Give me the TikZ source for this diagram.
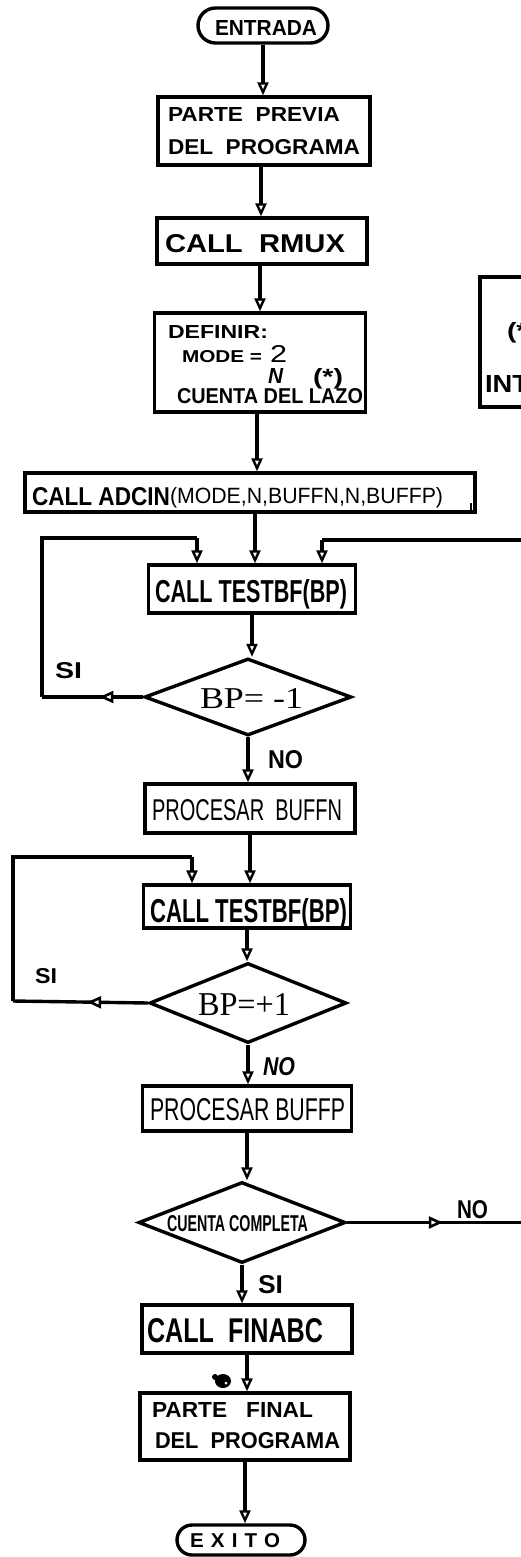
\documentclass[tikz,border=0pt]{standalone}
\usepackage{fontspec}
\usepackage{graphicx}
\setmainfont{Liberation Sans}
\newfontfamily\serifhand{Liberation Serif}
\usetikzlibrary{arrows.meta,shapes.geometric,decorations.markings}
\newcommand{\fitt}[3]{\resizebox{#1}{#2}{#3}}
\begin{document}
\begin{tikzpicture}[x=1pt,y=-1pt,
  ln/.style={line width=3.4pt, line join=miter},
  box/.style={draw, ln, rectangle, inner sep=0pt},
  term/.style={draw, ln, rectangle, rounded corners=#1, inner sep=0pt},
  dia/.style={draw, ln, diamond, inner sep=0pt},
  txt/.style={anchor=base west, inner sep=0pt, outer sep=0pt, font=\bfseries},
  tipp/.style={-{Triangle[fill=white,length=13pt,width=11pt,line width=2.4pt]}},
  flow/.style={ln, tipp},
  midarrow/.style={ln, postaction={decorate}, decoration={markings, mark=at position #1 with {\arrow{Triangle[fill=white,length=14pt,width=12pt,line width=2.6pt]}}}}
]
\fill[white] (0,0) rectangle (521,1557);
\useasboundingbox (0,0) rectangle (521,1557);
\clip (0,0) rectangle (521,1557);

% ---- nodes (boxes) ----
\node[term=17.5pt, minimum width=130pt, minimum height=35pt] (ent) at (263,25.5) {};
\node[box, minimum width=212pt, minimum height=68pt] (pp) at (264,131) {};
\node[box, minimum width=210pt, minimum height=46pt] (rmux) at (262,241) {};
\node[box, minimum width=211pt, minimum height=99pt] (def) at (260,362.5) {};
\node[box, minimum width=100pt, minimum height=130pt] (note) at (530,342) {};
\node[box, minimum width=450pt, minimum height=39pt] (adc) at (250,492.5) {};
\node[box, minimum width=207pt, minimum height=48pt] (t1) at (252,589) {};
\node[dia, minimum width=207pt, minimum height=77pt] (d1) at (248,697) {};
\node[box, minimum width=210pt, minimum height=49pt] (pb) at (250,808.5) {};
\node[box, minimum width=207pt, minimum height=43pt] (t2) at (247,906.5) {};
\node[dia, minimum width=197pt, minimum height=80pt] (d2) at (248,1003) {};
\node[box, minimum width=209pt, minimum height=45pt] (pbp) at (247,1108.5) {};
\node[dia, minimum width=207pt, minimum height=81pt] (d3) at (242,1222.5) {};
\node[box, minimum width=210pt, minimum height=48pt] (fin) at (247,1329) {};
\node[box, minimum width=210pt, minimum height=67pt] (pf) at (245,1426.5) {};
\node[term=15pt, minimum width=128pt, minimum height=30pt] (ex) at (241,1540) {};

% ---- texts ----
\node[txt] (entt) at (215,36) {\fitt{102pt}{15pt}{ENTRADA}};
\node[txt] (ppa) at (168,122) {\fitt{172pt}{14pt}{PARTE\ \ PREVIA}};
\node[txt] (ppb) at (168,155) {\fitt{192pt}{15pt}{DEL\ \ PROGRAMA}};
\node[txt] (rmuxt) at (165,252) {\fitt{180pt}{18pt}{CALL\ \ RMUX}};
\node[txt] (defa) at (168,338) {\fitt{100pt}{13pt}{DEFINIR:}};
\node[txt] (defb) at (182,362) {\fitt{80pt}{12pt}{MODE\ =}};
\node[txt] (defc) at (270,362) {\fitt{17pt}{17pt}{\mdseries 2}};
\node[txt] (defd) at (268,383) {\fitt{15pt}{15pt}{\itshape N}};
\node[txt] (defe) at (313,384) {\fitt{30pt}{16pt}{(*)}};
\node[txt] (deff) at (177,403) {\fitt{186pt}{15pt}{CUENTA DEL LAZO}};
\node[txt] (notea) at (507,338) {\fitt{30pt}{16pt}{(*)}};
\node[txt] (noteb) at (485,392) {\fitt{44pt}{17pt}{INT}};
\node[txt] (adca) at (32,505) {\fitt{138pt}{18pt}{CALL ADCIN}};
\node[txt] (adcb) at (170,503) {\fitt{273pt}{16pt}{\mdseries (MODE,N,BUFFN,N,BUFFP)}};
\node[txt] (t1t) at (155,602) {\fitt{192pt}{23pt}{CALL TESTBF(BP)}};
\node[txt] (d1t) at (200,708) {\fitt{103pt}{20pt}{\serifhand\mdseries BP= -1}};
\node[txt] (si1) at (55,678) {\fitt{27pt}{16pt}{SI}};
\node[txt] (no1) at (268,768) {\fitt{35pt}{18pt}{NO}};
\node[txt] (pbt) at (152,820) {\fitt{190pt}{21pt}{\mdseries PROCESAR\ \ BUFFN}};
\node[txt] (t2t) at (150,922) {\fitt{197pt}{24pt}{CALL TESTBF(BP)}};
\node[txt] (d2t) at (198,1015) {\fitt{92pt}{22pt}{\serifhand\mdseries BP=+1}};
\node[txt] (si2) at (35,983) {\fitt{22pt}{15pt}{SI}};
\node[txt] (no2) at (263,1075) {\fitt{32pt}{18pt}{\itshape NO}};
\node[txt] (pbpt) at (150,1120) {\fitt{195pt}{22pt}{\mdseries PROCESAR BUFFP}};
\node[txt] (d3t) at (167,1231) {\fitt{141pt}{16pt}{CUENTA COMPLETA}};
\node[txt] (no3) at (457,1218) {\fitt{31pt}{18pt}{NO}};
\node[txt] (si3) at (258,1293) {\fitt{25pt}{18pt}{SI}};
\node[txt] (fint) at (147,1342) {\fitt{176pt}{24pt}{CALL\ \ FINABC}};
\node[txt] (pfa) at (152,1417) {\fitt{161pt}{15pt}{PARTE\ \ \ FINAL}};
\node[txt] (pfb) at (155,1448) {\fitt{185pt}{16pt}{DEL\ \ PROGRAMA}};
\node[txt] (ext) at (190,1547) {\fitt{90pt}{14pt}{\addfontfeatures{LetterSpace=35}EXITO}};

% ---- main flow ----
\draw[flow] (ent.south) -- (ent.south |- pp.north);
\draw[flow] ([xshift=-3pt]pp.south) -- ([xshift=-3pt]pp.south |- rmux.north);
\draw[flow] ([xshift=-2pt]rmux.south) -- ([xshift=-2pt]rmux.south |- def.north);
\draw[flow] ([xshift=-3pt]def.south) -- ([xshift=-3pt]def.south |- adc.north);
\draw[flow] ([xshift=5pt]adc.south) -- ([xshift=5pt]adc.south |- t1.north);
\draw[flow] (t1.south) -- (t1.south |- d1.north);
\draw[flow] (d1.south) -- (d1.south |- pb.north);
\draw[flow] (pb.south) -- (pb.south |- t2.north);
\draw[flow] (t2.south) -- (t2.south |- d2.north);
\draw[flow] (d2.south) -- (d2.south |- pbp.north);
\draw[flow] (pbp.south) -- (pbp.south |- d3.north);
\draw[flow] (d3.south) -- (d3.south |- fin.north);
\draw[flow] (fin.south) -- (fin.south |- pf.north);
\draw[flow] (pf.south) -- (pf.south |- ex.north);

% ---- loop 1 (SI of BP=-1) ----
\coordinate (l1a) at (42,697);
\coordinate (l1b) at (42,538);
\coordinate (l1c) at (197,538);
\draw[midarrow=0.43] (d1.west) -- (l1a);
\draw[ln] (l1a) -- (l1b) -- (l1c);
\draw[flow] (l1c) -- (l1c |- t1.north);

% ---- loop back from the right (NO of CUENTA COMPLETA) ----
\coordinate (r1a) at (521,540);
\coordinate (r1b) at (322,540);
\draw[ln] (r1a) -- (r1b);
\draw[flow] (r1b) -- (r1b |- t1.north);

% ---- loop 2 (SI of BP=+1) ----
\coordinate (l2a) at (13,1001);
\coordinate (l2b) at (13,857);
\coordinate (l2c) at (192,857);
\draw[midarrow=0.45] (d2.west) -- (l2a);
\draw[ln] (l2a) -- (l2b) -- (l2c);
\draw[flow] (l2c) -- (l2c |- t2.north);

% ---- NO exit of CUENTA COMPLETA ----
\coordinate (r3) at (521,1222.5);
\draw[midarrow=0.55] (d3.east) -- (r3);

% ---- small marks ----
\draw[line width=1.8pt] (471,503) -- (471,512);
\fill (223,1381) ellipse [x radius=8pt, y radius=7pt];
\fill (215,1377) circle [radius=3pt];
\fill[white] (226,1383) circle [radius=1.5pt];
\end{tikzpicture}
\end{document}
